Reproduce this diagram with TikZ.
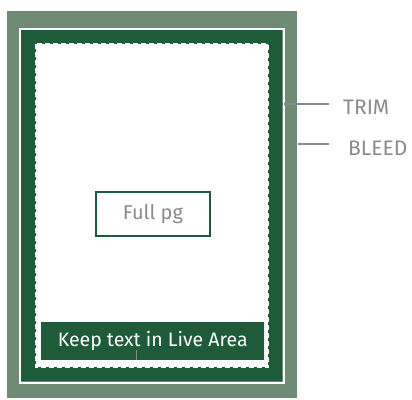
\documentclass[tikz,border=0pt]{standalone}
\usepackage{fontspec}
\setmainfont{Fira Sans}
\definecolor{darkg}{HTML}{1D5B39}
\definecolor{lightg}{HTML}{6F8B73}
\definecolor{txtgray}{HTML}{8A8A8F}
\begin{document}
\begin{tikzpicture}[x=1pt,y=-1pt,
  lbl/.style={text=txtgray,font=\fontsize{21}{24}\selectfont,anchor=west,inner sep=0pt},
  leader/.style={draw=txtgray,line width=2.2pt}]
\useasboundingbox (0,0) rectangle (412,399);
\fill[lightg] (7,11) rectangle (297,398);
\draw[white,line width=2pt] (19.5,28.5) rectangle (284,383);
\fill[darkg] (21,30) rectangle (282,381);
\draw[white,fill=white,line width=1.8pt,dash pattern=on 5pt off 3pt] (36,44) rectangle (268,367);
\node[fill=darkg,minimum width=223pt,minimum height=38pt,inner sep=0pt,anchor=north west,text=white,font=\fontsize{19.5}{22}\selectfont] (live) at (41,322) {Keep text in Live Area};
\draw[txtgray,line width=1pt] (136,350) -- (136,360);
\node[draw=darkg,line width=2pt,minimum width=114pt,minimum height=44pt,inner sep=0pt,anchor=north west,text=txtgray,font=\fontsize{20}{23}\selectfont] (full) at (95,191) {Full pg};
\coordinate (trimA) at (284,104);
\coordinate (trimB) at (329,104);
\coordinate (bleedA) at (298,144);
\coordinate (bleedB) at (329,144);
\draw[leader] (trimA) -- (trimB);
\draw[leader] (bleedA) -- (bleedB);
\node[lbl] (trim) at (343,107) {TRIM};
\node[lbl] (bleed) at (348,148) {BLEED};
\end{tikzpicture}
\end{document}
